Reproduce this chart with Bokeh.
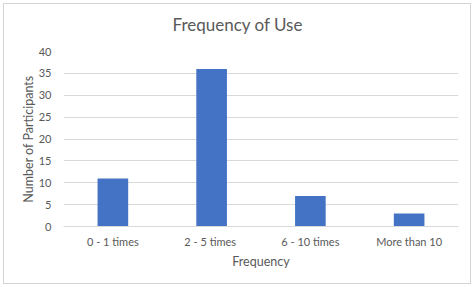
from bokeh.plotting import figure
from bokeh.models import FactorRange, Range1d, SingleIntervalTicker, Title
from bokeh.embed import file_html
from bokeh.resources import INLINE

categories = ["0 - 1 times", "2 - 5  times", "6 - 10 times", "More than 10"]
participants = [11, 36, 7, 3]
title_text = "Frequency of Use"
x_title = "Frequency"
y_title = "Number of Participants"

FONT = "Lato"
TXT = "#595959"
GRID = "#d9d9d9"

p = figure(width=468, height=281, output_backend="svg", toolbar_location=None,
           x_range=FactorRange(factors=categories, range_padding=0),
           y_range=Range1d(0, 40))
p.styles = {"margin": "3px 0 0 3px", "border": "1px solid #d4d4d4", "box-sizing": "border-box"}
p.min_border_left = 59
p.min_border_right = 14
p.min_border_top = 47
p.min_border_bottom = 59
p.outline_line_color = None
p.background_fill_color = "white"
p.border_fill_color = "white"

p.vbar(x=categories, top=participants, width=0.31, color="#4472c4", line_color=None)

p.xgrid.grid_line_color = None
p.ygrid.grid_line_color = GRID
p.ygrid.grid_line_width = 1

p.yaxis.ticker = SingleIntervalTicker(interval=5)
p.yaxis.axis_line_color = None
p.yaxis.major_tick_line_color = None
p.yaxis.minor_tick_line_color = None
p.yaxis.major_label_standoff = 6
p.yaxis.axis_label = y_title
p.yaxis.axis_label_standoff = 0

p.xaxis.axis_line_color = GRID
p.xaxis.major_tick_line_color = None
p.xaxis.minor_tick_line_color = None
p.xaxis.major_label_standoff = 2
p.xaxis.axis_label = x_title
p.xaxis.axis_label_standoff = 3

for ax in (p.xaxis, p.yaxis):
    ax.major_label_text_font = FONT
    ax.major_label_text_font_size = "11px"
    ax.major_label_text_color = TXT
    ax.axis_label_text_font = FONT
    ax.axis_label_text_font_size = "12.5px"
    ax.axis_label_text_font_style = "normal"
    ax.axis_label_text_color = TXT

# spacer nearest the plot area, then the real title above it
spacer = Title(text=" ", text_font_size="4px", standoff=0, text_color="white")
p.add_layout(spacer, "above")
t = Title(text=title_text, align="left", offset=109, text_font=FONT,
          text_font_size="17px", text_font_style="normal", text_color=TXT,
          vertical_align="middle", standoff=17)
p.add_layout(t, "above")

open("out.html", "w").write(file_html(p, INLINE))
